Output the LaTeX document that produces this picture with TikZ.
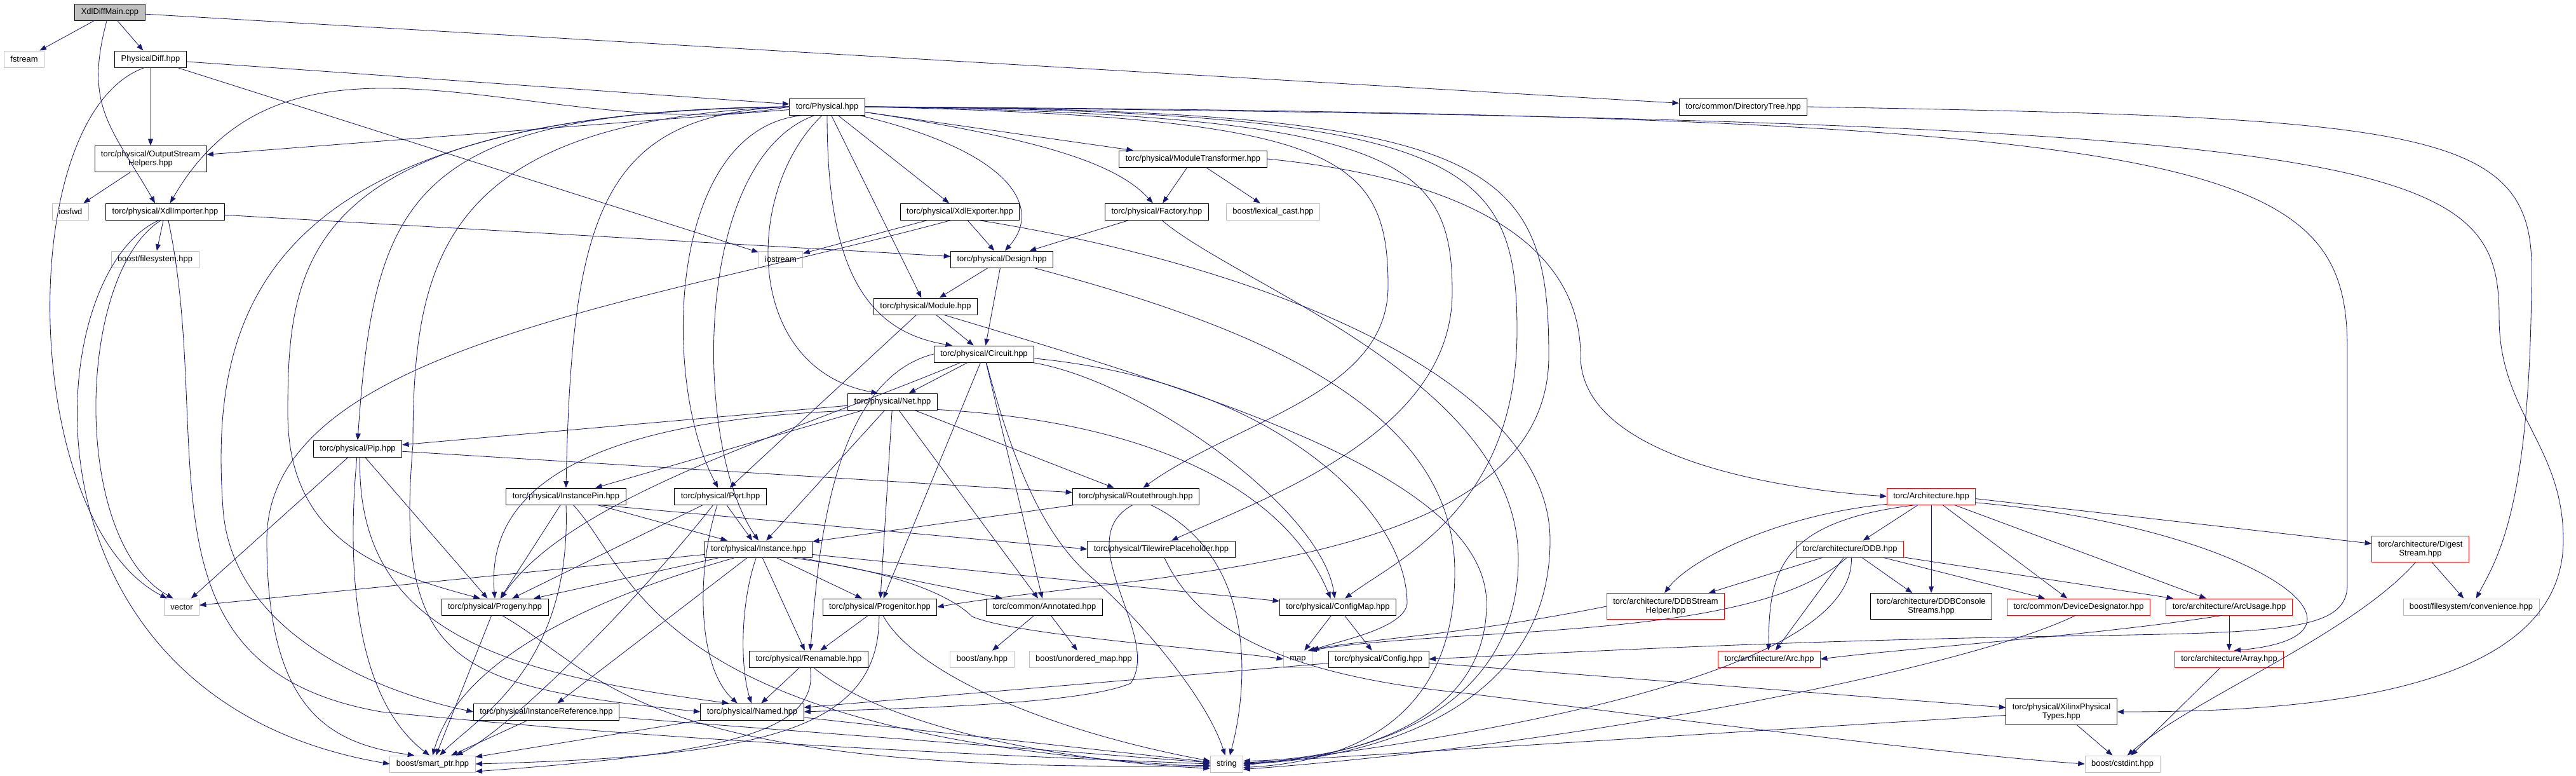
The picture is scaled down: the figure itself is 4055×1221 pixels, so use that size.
\documentclass[tikz,border=0pt]{standalone}
\usepackage{fontspec}
\setmainfont{Liberation Sans}
\usetikzlibrary{arrows.meta, positioning}
\definecolor{edgeblue}{RGB}{25, 25, 112}
\definecolor{sysgray}{RGB}{191, 191, 191}
\definecolor{cutred}{RGB}{255, 0, 0}
\definecolor{rootgray}{RGB}{191, 191, 191}

\begin{document}
\begin{tikzpicture}[
        x=0.025cm, y=-0.025cm,
        file/.style={rectangle, draw=black, fill=white, line width=0.6pt, font=\fontsize{9.2}{10}\selectfont, inner xsep=0.25cm, inner ysep=0pt, minimum height=0.65cm, align=center},
        twoline/.style={minimum height=1.03cm},
        sysfile/.style={file, draw=sysgray},
        cutfile/.style={file, draw=cutred},
        rootfile/.style={file, fill=rootgray},
        dep/.style={-{Triangle[length=0.26cm, width=0.2cm]}, draw=edgeblue, line width=0.6pt}
    ]
        \useasboundingbox (0,0) rectangle (4055,1221);

        % files
        \node[rootfile] (main) at (173,19) {XdlDiffMain.cpp};
        \node[sysfile] (fstream) at (38,93) {fstream};
        \node[file] (physdiff) at (237,93) {PhysicalDiff.hpp};
        \node[file] (physical) at (1302,168) {torc/Physical.hpp};
        \node[file] (dirtree) at (2744,168) {torc/common/DirectoryTree.hpp};
        \node[file, twoline] (outhelp) at (237,250) {torc/physical/OutputStream\\Helpers.hpp};
        \node[file] (modtrans) at (1878,250) {torc/physical/ModuleTransformer.hpp};
        \node[sysfile] (iosfwd) at (111,333) {iosfwd};
        \node[file] (xdlimp) at (260,333) {torc/physical/XdlImporter.hpp};
        \node[file] (xdlexp) at (1511,333) {torc/physical/XdlExporter.hpp};
        \node[file] (factory) at (1821,333) {torc/physical/Factory.hpp};
        \node[sysfile] (lexcast) at (2004,333) {boost/lexical\_cast.hpp};
        \node[sysfile] (fsys) at (244,408) {boost/filesystem.hpp};
        \node[sysfile] (iostream) at (1229,408) {iostream};
        \node[file] (design) at (1577,408) {torc/physical/Design.hpp};
        \node[file] (module) at (1457,482) {torc/physical/Module.hpp};
        \node[file] (circuit) at (1549,557) {torc/physical/Circuit.hpp};
        \node[file] (net) at (1405,632) {torc/physical/Net.hpp};
        \node[file] (pip) at (563,706) {torc/physical/Pip.hpp};
        \node[file] (instpin) at (891,781) {torc/physical/InstancePin.hpp};
        \node[file] (port) at (1134,781) {torc/physical/Port.hpp};
        \node[file] (routethrough) at (1788,781) {torc/physical/Routethrough.hpp};
        \node[cutfile] (arch) at (3040,781) {torc/Architecture.hpp};
        \node[file] (instance) at (1194,864) {torc/physical/Instance.hpp};
        \node[file] (tileph) at (1828,864) {torc/physical/TilewirePlaceholder.hpp};
        \node[cutfile] (ddb) at (2912,864) {torc/architecture/DDB.hpp};
        \node[cutfile, twoline] (digest) at (3810,864) {torc/architecture/Digest\\Stream.hpp};
        \node[sysfile] (vector) at (286,955) {vector};
        \node[file] (progeny) at (779,955) {torc/physical/Progeny.hpp};
        \node[file] (progenitor) at (1385,955) {torc/physical/Progenitor.hpp};
        \node[file] (annotated) at (1644,955) {torc/common/Annotated.hpp};
        \node[file] (configmap) at (2106,955) {torc/physical/ConfigMap.hpp};
        \node[cutfile, twoline] (ddbstream) at (2622,954) {torc/architecture/DDBStream\\Helper.hpp};
        \node[file, twoline] (ddbconsole) at (3040,954) {torc/architecture/DDBConsole\\Streams.hpp};
        \node[cutfile] (devdes) at (3272,955) {torc/common/DeviceDesignator.hpp};
        \node[cutfile] (arcusage) at (3509,955) {torc/architecture/ArcUsage.hpp};
        \node[sysfile] (conv) at (3890,955) {boost/filesystem/convenience.hpp};
        \node[file] (renamable) at (1273,1037) {torc/physical/Renamable.hpp};
        \node[sysfile] (any) at (1546,1037) {boost/any.hpp};
        \node[sysfile] (umap) at (1706,1037) {boost/unordered\_map.hpp};
        \node[sysfile] (map) at (2043,1037) {map};
        \node[file] (config) at (2170,1037) {torc/physical/Config.hpp};
        \node[cutfile] (arc) at (2785,1037) {torc/architecture/Arc.hpp};
        \node[cutfile] (array) at (3509,1037) {torc/architecture/Array.hpp};
        \node[file] (instref) at (860,1120) {torc/physical/InstanceReference.hpp};
        \node[file] (named) at (1184,1120) {torc/physical/Named.hpp};
        \node[file, twoline] (xilinx) at (3245,1120) {torc/physical/XilinxPhysical\\Types.hpp};
        \node[sysfile] (smartptr) at (681,1202) {boost/smart\_ptr.hpp};
        \node[sysfile] (string) at (1931,1202) {string};
        \node[sysfile] (cstdint) at (3341,1202) {boost/cstdint.hpp};

        % XdlDiffMain.cpp
        \draw[dep] (main) -- (fstream);
        \draw[dep] (main) -- (physdiff);
        \draw[dep] (main.250) to[out=-105, in=120, looseness=1.2] (xdlimp.140);
        \draw[dep] (main) -- (dirtree);

        % PhysicalDiff.hpp
        \draw[dep] (physdiff) -- (outhelp);
        \draw[dep] (physdiff) -- (physical);
        \draw[dep] (physdiff) -- (iostream);
        \draw[dep] (physdiff.235) .. controls (20,180) and (30,820) .. (vector.150);
        \draw[dep] (outhelp) -- (iosfwd);

        % XdlImporter.hpp
        \draw[dep] (xdlimp) -- (fsys);
        \draw[dep] (xdlimp) -- (design);
        \draw[dep] (xdlimp.235) .. controls (60,430) and (10,1100) .. (smartptr.west);
        \draw[dep] (xdlimp.245) .. controls (120,430) and (110,850) .. (vector.135);
        \draw[dep] (xdlimp.290) .. controls (340,700) and (200,1050) .. (600,1120) .. controls (1100,1170) and (1600,1190) .. (string.west);

        % DirectoryTree.hpp
        \draw[dep] (dirtree.east) .. controls (3800,185) and (3985,200) .. (3985,420) .. controls (3985,800) and (3930,880) .. (conv.60);

        % torc/Physical.hpp
        \draw[dep] (physical) -- (outhelp);
        \draw[dep] (physical.west) to[out=190, in=60] (xdlimp.60);
        \draw[dep] (physical.west) .. controls (650,175) and (590,300) .. (pip.north);
        \draw[dep] (physical.west) .. controls (950,180) and (900,330) .. (instpin.north);
        \draw[dep] (physical.west) .. controls (400,175) and (330,500) .. (351,800) .. controls (365,1000) and (600,1090) .. (instref.west);
        \draw[dep] (physical.west) .. controls (480,180) and (453,400) .. (453,650) .. controls (453,850) and (600,900) .. (progeny.150);
        \draw[dep] (physical.west) .. controls (700,190) and (650,400) .. (650,700) .. controls (620,1050) and (720,1080) .. (named.west);
        \draw[dep] (physical.200) .. controls (1050,200) and (1040,600) .. (port.105);
        \draw[dep] (physical.215) .. controls (1090,250) and (1090,700) .. (instance.north);
        \draw[dep] (physical.240) .. controls (1170,300) and (1170,580) .. (net.150);
        \draw[dep] (physical.south) .. controls (1302,400) and (1350,520) .. (circuit.165);
        \draw[dep] (physical) -- (module);
        \draw[dep] (physical) -- (xdlexp);
        \draw[dep] (physical.-15) .. controls (1600,240) and (1640,330) .. (design.70);
        \draw[dep] (physical) -- (modtrans);
        \draw[dep] (physical.-8) .. controls (1650,220) and (1760,260) .. (factory.115);
        \draw[dep] (physical.east) .. controls (2100,185) and (2185,240) .. (2185,450) .. controls (2185,620) and (1950,660) .. (routethrough.50);
        \draw[dep] (physical.east) .. controls (2200,180) and (2286,250) .. (2286,460) .. controls (2286,680) and (2000,780) .. (tileph.40);
        \draw[dep] (physical.east) .. controls (2300,175) and (2388,250) .. (2388,520) .. controls (2388,800) and (2200,880) .. (configmap.50);
        \draw[dep] (physical.east) .. controls (2350,172) and (2438,250) .. (2438,560) .. controls (2438,900) and (1800,900) .. (progenitor.east);
        \draw[dep] (physical.east) .. controls (3500,180) and (3695,250) .. (3695,550) -- (3695,920) .. controls (3695,990) and (3600,995) .. (3300,1000) .. controls (2800,1008) and (2500,1025) .. (config.east);
        \draw[dep] (physical.east) .. controls (3800,190) and (3934,250) .. (3934,500) .. controls (3934,650) and (4035,700) .. (4035,850) .. controls (4035,1100) and (3600,1120) .. (xilinx.east);

        % ModuleTransformer.hpp
        \draw[dep] (modtrans) -- (factory);
        \draw[dep] (modtrans) -- (lexcast);
        \draw[dep] (modtrans.east) .. controls (2300,280) and (2488,380) .. (2488,560) .. controls (2488,720) and (2800,770) .. (arch.west);

        % XdlExporter.hpp
        \draw[dep] (xdlexp) -- (iostream);
        \draw[dep] (xdlexp) -- (design);
        \draw[dep] (xdlexp.225) .. controls (1000,480) and (420,550) .. (420,850) .. controls (420,1120) and (520,1170) .. (smartptr.155);
        \draw[dep] (xdlexp.-25) .. controls (2000,420) and (2440,600) .. (2440,850) .. controls (2440,1120) and (2150,1195) .. (string.east);

        % Factory.hpp, Design.hpp, Module.hpp
        \draw[dep] (factory) -- (design);
        \draw[dep] (factory.-60) .. controls (1950,450) and (2390,600) .. (2390,880) .. controls (2390,1120) and (2150,1195) .. (string.10);
        \draw[dep] (design) -- (module);
        \draw[dep] (design) -- (circuit);
        \draw[dep] (design.-15) .. controls (2000,520) and (2290,650) .. (2290,900) .. controls (2290,1150) and (2100,1200) .. (string.-12);
        \draw[dep] (module) -- (circuit);
        \draw[dep] (module) -- (port);
        \draw[dep] (module.-25) .. controls (1900,620) and (2340,750) .. (2340,950) .. controls (2340,1150) and (2100,1195) .. (string.2);

        % Circuit.hpp
        \draw[dep] (circuit) -- (net);
        \draw[dep] (circuit.west) .. controls (1300,600) and (1287,900) .. (renamable.80);
        \draw[dep] (circuit.200) .. controls (1250,680) and (900,780) .. (progeny.55);
        \draw[dep] (circuit) -- (progenitor);
        \draw[dep] (circuit) -- (annotated);
        \draw[dep] (circuit.-75) .. controls (1600,750) and (1650,850) .. (1720,910) .. controls (1800,980) and (1900,1100) .. (string.100);
        \draw[dep] (circuit.-10) .. controls (1800,600) and (2080,800) .. (configmap.110);
        \draw[dep] (circuit.-5) .. controls (2000,600) and (2215,800) .. (2215,950) .. controls (2210,990) and (2100,1010) .. (map.30);

        % Net.hpp
        \draw[dep] (net) -- (pip);
        \draw[dep] (net) -- (instpin);
        \draw[dep] (net.195) .. controls (900,660) and (765,780) .. (progeny.north);
        \draw[dep] (net) -- (instance);
        \draw[dep] (net) -- (progenitor);
        \draw[dep] (net) -- (annotated);
        \draw[dep] (net) -- (routethrough);
        \draw[dep] (net.-10) .. controls (1750,660) and (2010,740) .. (configmap.130);

        % Pip.hpp
        \draw[dep] (pip) -- (routethrough);
        \draw[dep] (pip) -- (vector);
        \draw[dep] (pip) -- (progeny);
        \draw[dep] (pip.265) .. controls (545,900) and (560,1100) .. (smartptr.110);
        \draw[dep] (pip.285) .. controls (560,1000) and (800,1060) .. (named.160);

        % InstancePin.hpp
        \draw[dep] (instpin) -- (instance);
        \draw[dep] (instpin.-15) -- (tileph.west);
        \draw[dep] (instpin) -- (progeny);
        \draw[dep] (instpin.south) .. controls (900,1050) and (750,1130) .. (smartptr.50);
        \draw[dep] (instpin.-50) .. controls (1000,900) and (1020,1160) .. (string.190);

        % Port.hpp
        \draw[dep] (port) -- (instance);
        \draw[dep] (port) -- (progeny);
        \draw[dep] (port.250) .. controls (1095,900) and (1098,1050) .. (named.150);
        \draw[dep] (port.230) .. controls (1000,950) and (800,1150) .. (smartptr.20);

        % Routethrough.hpp
        \draw[dep] (routethrough) -- (instance);
        \draw[dep] (routethrough.-110) .. controls (1680,850) and (1830,1000) .. (1780,1075) .. controls (1700,1110) and (1400,1115) .. (named.east);
        \draw[dep] (routethrough.-30) .. controls (1990,880) and (1960,1100) .. (string.70);

        % Instance.hpp
        \draw[dep] (instance) -- (vector);
        \draw[dep] (instance) -- (progeny);
        \draw[dep] (instance.200) .. controls (900,950) and (720,1050) .. (smartptr.north);
        \draw[dep] (instance.255) .. controls (1165,950) and (1165,1050) .. (named.95);
        \draw[dep] (instance) -- (renamable);
        \draw[dep] (instance) -- (progenitor);
        \draw[dep] (instance) -- (annotated);
        \draw[dep] (instance) -- (configmap);
        \draw[dep] (instance.-15) .. controls (1420,900) and (1500,940) .. (1530,970) .. controls (1600,1000) and (1900,1020) .. (map.west);
        \draw[dep] (instance) -- (instref);

        % Progeny.hpp, Progenitor.hpp, Renamable.hpp, Named.hpp
        \draw[dep] (progeny) -- (smartptr);
        \draw[dep] (progeny.-50) .. controls (950,1060) and (1000,1220) .. (string.185);
        \draw[dep] (progenitor) -- (renamable);
        \draw[dep] (progenitor.265) .. controls (1385,1150) and (1200,1190) .. (smartptr.east);
        \draw[dep] (progenitor.-70) .. controls (1440,1060) and (1650,1150) .. (string.170);
        \draw[dep] (annotated) -- (any);
        \draw[dep] (annotated) -- (umap);
        \draw[dep] (renamable) -- (named);
        \draw[dep] (renamable.-60) .. controls (1400,1150) and (1700,1200) .. (string.195);
        \draw[dep] (renamable.-80) .. controls (1290,1150) and (1150,1185) .. (smartptr.-10);
        \draw[dep] (named) -- (smartptr);
        \draw[dep] (named) -- (string);
        \draw[dep] (instref) -- (smartptr);
        \draw[dep] (instref) -- (string);

        % ConfigMap.hpp, Config.hpp, XilinxPhysicalTypes.hpp
        \draw[dep] (configmap) -- (map);
        \draw[dep] (configmap) -- (config);
        \draw[dep] (config) -- (named);
        \draw[dep] (config) -- (xilinx);
        \draw[dep] (xilinx) -- (string);
        \draw[dep] (xilinx) -- (cstdint);
        \draw[dep] (tileph.-70) .. controls (1880,980) and (2000,1060) .. (2300,1090) .. controls (2700,1140) and (3100,1190) .. (cstdint.west);

        % torc/Architecture.hpp
        \draw[dep] (arch.190) .. controls (2800,810) and (2660,880) .. (ddbstream.95);
        \draw[dep] (arch.210) .. controls (2800,820) and (2785,900) .. (arc.95);
        \draw[dep] (arch) -- (ddb);
        \draw[dep] (arch) -- (ddbconsole);
        \draw[dep] (arch) -- (devdes);
        \draw[dep] (arch) -- (arcusage);
        \draw[dep] (arch.-8) .. controls (3550,830) and (3780,1000) .. (array.60);
        \draw[dep] (arch.-3) -- (digest);

        % torc/architecture
        \draw[dep] (ddb) -- (ddbstream);
        \draw[dep] (ddb.250) .. controls (2760,1010) and (2300,985) .. (map.35);
        \draw[dep] (ddb) -- (arc);
        \draw[dep] (ddb.-80) .. controls (2920,1050) and (2400,1150) .. (string.-5);
        \draw[dep] (ddb) -- (ddbconsole);
        \draw[dep] (ddb) -- (devdes);
        \draw[dep] (ddb) -- (arcusage);
        \draw[dep] (ddbstream.west) .. controls (2300,1000) and (2150,1005) .. (map.40);
        \draw[dep] (devdes.250) .. controls (3100,1050) and (2500,1170) .. (string.-18);
        \draw[dep] (arcusage.230) .. controls (3300,1000) and (3000,1020) .. (arc.east);
        \draw[dep] (arcusage) -- (array);
        \draw[dep] (array) -- (cstdint);
        \draw[dep] (digest) -- (conv);
        \draw[dep] (digest.250) .. controls (3700,1000) and (3450,1100) .. (cstdint.60);
    \end{tikzpicture}
\end{document}
